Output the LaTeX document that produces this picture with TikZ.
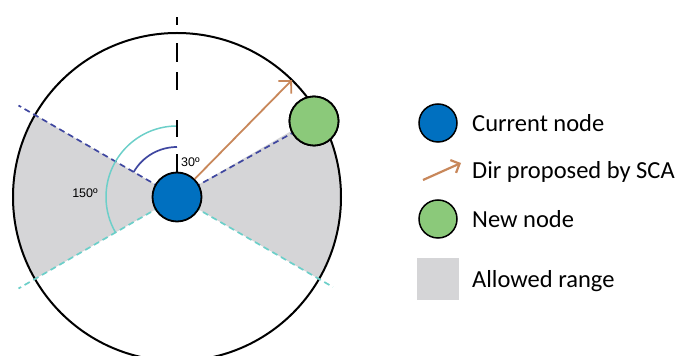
\documentclass[tikz,border=0pt]{standalone}
\usepackage{fontspec}
\setmainfont{Carlito}
\newfontfamily\anglefont{Liberation Sans}
\usetikzlibrary{arrows.meta, positioning, calc}

\definecolor{curblue}{HTML}{0070C0}
\definecolor{newgreen}{HTML}{8BC97A}
\definecolor{dirorange}{HTML}{C8875A}
\definecolor{rangegray}{HTML}{D5D5D7}
\definecolor{limcyan}{HTML}{6CCFC9}
\definecolor{limblue}{HTML}{3F47A0}

\tikzset{
  nodedisk/.style={circle, draw=black, line width=1.8pt, minimum size=49pt, inner sep=0pt},
  legdisk/.style={circle, draw=black, line width=1.5pt, minimum size=38pt, inner sep=0pt},
  dirarrow/.style={draw=dirorange, line width=1.8pt, -{Straight Barb[length=9pt, width=18pt, line width=1.8pt]}},
  limline/.style={line width=1.7pt, dash pattern=on 6pt off 4pt},
  legtext/.style={right, font=\fontsize{24.5}{29}\selectfont, inner sep=0pt},
  anglabel/.style={font=\anglefont\fontsize{12.5}{15}\selectfont, inner sep=0pt}
}

\begin{document}
\begin{tikzpicture}[x=1pt, y=1pt, >=Stealth]
  \useasboundingbox (0,0) rectangle (678,356);
  \clip (0,0) rectangle (678,356);
  \coordinate (C) at (177,159);
  % Allowed range (two wedges)
  \fill[rangegray] (C) -- ($(C)+(150:164)$) arc (150:210:164) -- cycle;
  \fill[rangegray] (C) -- ($(C)+(-30:164)$) arc (-30:30:164) -- cycle;
  % Search circle
  \draw[line width=2pt] (C) circle (164);
  % Range limits
  \coordinate (ul) at ($(C)+(150:183)$);
  \coordinate (ll) at ($(C)+(210:183)$);
  \coordinate (lr) at ($(C)+(-30:180)$);
  \coordinate (tip) at (292,276);
  \coordinate (vtop) at (177,343);
  \node[nodedisk, fill=newgreen] (new) at (314,235) {};
  \draw[limline, limblue] (C) -- (ul);
  \draw[limline, limblue] (C) -- (new);
  \draw[limline, limcyan] (C) -- (ll);
  \draw[limline, limcyan] (C) -- (lr);
  % Angle arcs
  \draw[limcyan, line width=1.5pt] ($(C)+(90:71)$) arc (90:210:71);
  \draw[limblue, line width=1.7pt] ($(C)+(90:50)$) arc (90:150:50);
  \node[anglabel, right] (a30) at (181,194) {30º};
  \node[anglabel] (a150) at (85,163) {150º};
  % Vertical reference
  \node[nodedisk, fill=curblue] (cur) at (C) {};
  \draw[line width=2pt, dash pattern=on 18pt off 17pt on 17pt off 30pt on 18pt off 10pt on 19pt off 18pt on 8pt off 50pt]
    (cur.north) -- (vtop);
  % Proposed direction
  \draw[dirarrow] (cur) -- (tip);
  \node[nodedisk, fill=newgreen] at (new) {};
  % Legend
  \node[legdisk, fill=curblue] (lcur) at (438,233) {};
  \node[legtext] (tcur) at (472,233) {Current node};
  \coordinate (ldirs) at (423,176);
  \coordinate (ldire) at (461,193);
  \draw[dirarrow, -{Straight Barb[length=7pt, width=14pt, line width=2.2pt]}, line width=2.2pt] (ldirs) -- (ldire);
  \node[legtext] (tdir) at (472,184) {Dir proposed by SCA};
  \node[legdisk, fill=newgreen] (lnew) at (438,137) {};
  \node[legtext] (tnew) at (472,137) {New node};
  \node[fill=rangegray, minimum size=42pt, inner sep=0pt] (lrange) at (438,77) {};
  \node[legtext] (trange) at (472,75) {Allowed range};
\end{tikzpicture}
\end{document}
